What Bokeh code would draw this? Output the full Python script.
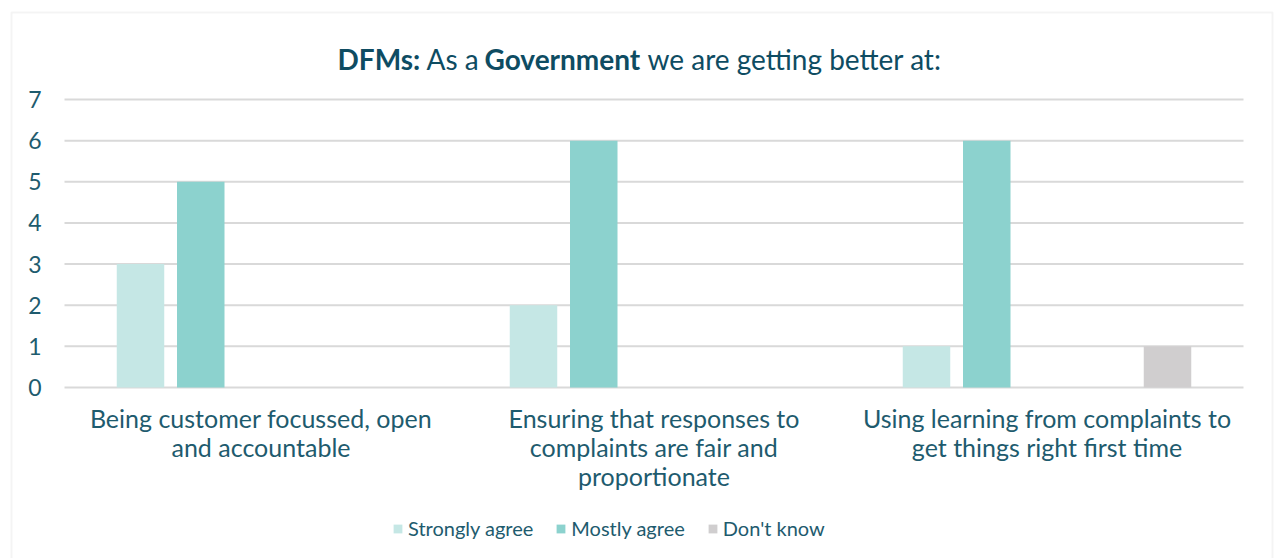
from bokeh.plotting import figure
from bokeh.models import Range1d, Legend, LegendItem, BoxAnnotation, ColumnDataSource
from bokeh.transform import dodge
from bokeh.embed import file_html
from bokeh.resources import INLINE
from bokeh.core.properties import value

# ---- data ----
categories = [
    "Being customer focussed, open and accountable",
    "Ensuring that responses to complaints are fair and proportionate",
    "Using learning from complaints to get things right first time",
]
category_labels = [
    "Being customer focussed, open\nand accountable",
    "Ensuring that responses to\ncomplaints are fair and\nproportionate",
    "Using learning from complaints to\nget things right first time",
]
series_names = ["Strongly agree", "Mostly agree", "Don't know"]
strongly_agree = [3, 2, 1]
mostly_agree = [5, 6, 6]
dont_know = [0, 0, 1]
y_ticks = [0, 1, 2, 3, 4, 5, 6, 7]
title_parts = ["DFMs:", "As a", "Government", "we are getting better at:"]
title_bold = [True, False, True, False]

# ---- style / layout ----
FONT = "Lato"
TXT = "#1e5b6e"
TITLE_C = "#0e4c62"
COLORS = ["#c5e7e5", "#8cd2ce", "#d0cecf"]
GRID = "#d9d9d9"
W, H = 1274, 558
PLOT_L, PLOT_R = 64, 1243          # plot area px
Y0_PX, YTOP_PX = 387.0, 99.06      # px of value 0 and of top tick
n = len(categories)
C = (PLOT_R - PLOT_L) / n          # px per category
U = (Y0_PX - YTOP_PX) / y_ticks[-1]  # px per unit
def X(px):
    return (px - PLOT_L) / C
def Y(py):
    return (Y0_PX - py) / U

p = figure(width=W, height=H, x_range=Range1d(X(0), X(W)), y_range=Range1d(Y(H), Y(0)),
           x_axis_type=None, y_axis_type=None, output_backend="svg", toolbar_location=None,
           min_border=0, min_border_left=0, min_border_right=0, min_border_top=0,
           min_border_bottom=0)
p.outline_line_color = None
p.xgrid.visible = False
p.ygrid.visible = False
p.background_fill_color = "white"
p.border_fill_color = "white"

# value axis: grid lines and tick labels drawn on the plot's own scales
p.segment(x0=0, x1=n, y0=y_ticks, y1=y_ticks, line_color=GRID, line_width=2)
p.text(x=X(41), y=y_ticks, text=[str(t) for t in y_ticks], text_align="right",
       text_baseline="middle", text_font=value(FONT), text_font_size="23px",
       text_color=TXT)

# bars
centers = [i + 0.5 for i in range(n)]
src = ColumnDataSource(dict(xc=centers, s=strongly_agree, m=mostly_agree, d=dont_know))
step = 60.25 / C
bw = 47.5 / C
offsets = [-2 * step, -step, 2 * step]
renderers = []
for col, off, c in zip(["s", "m", "d"], offsets, COLORS):
    r = p.vbar(x=dodge("xc", off), top=col, width=bw, source=src,
               fill_color=c, line_color=None)
    renderers.append(r)

# category labels
p.text(x=centers, y=Y(402), text=category_labels, text_align="center",
       text_baseline="top", text_font=value(FONT), text_font_size="25px",
       text_color=TXT, text_line_height=0.97)

# title (mixed bold)
title_x = [337, 426, 484, 647]
tb = [X(x) for x, b in zip(title_x, title_bold) if b]
tn = [X(x) for x, b in zip(title_x, title_bold) if not b]
p.text(x=tb, y=Y(58), text=[t for t, b in zip(title_parts, title_bold) if b],
       text_font=value(FONT), text_font_size="28px", text_font_style="bold",
       text_color=TITLE_C, text_baseline="alphabetic", text_align="left")
p.text(x=tn, y=Y(58), text=[t for t, b in zip(title_parts, title_bold) if not b],
       text_font=value(FONT), text_font_size="28px", text_font_style="normal",
       text_color=TITLE_C, text_baseline="alphabetic", text_align="left")

# outer border
p.add_layout(BoxAnnotation(left=X(11), right=X(1272), top=Y(12), bottom=Y(H + 20),
                           fill_alpha=0, line_color=GRID, line_width=2))

legend = Legend(items=[LegendItem(label=nm, renderers=[r]) for nm, r in zip(series_names, renderers)],
                orientation="horizontal", location=(392, 18),
                glyph_width=11, glyph_height=11, label_standoff=5, spacing=22,
                padding=0, margin=0, border_line_color=None, background_fill_alpha=0,
                label_text_font=FONT, label_text_font_size="20px", label_text_color=TXT)
p.add_layout(legend)

open("out.html", "w").write(file_html(p, INLINE))
